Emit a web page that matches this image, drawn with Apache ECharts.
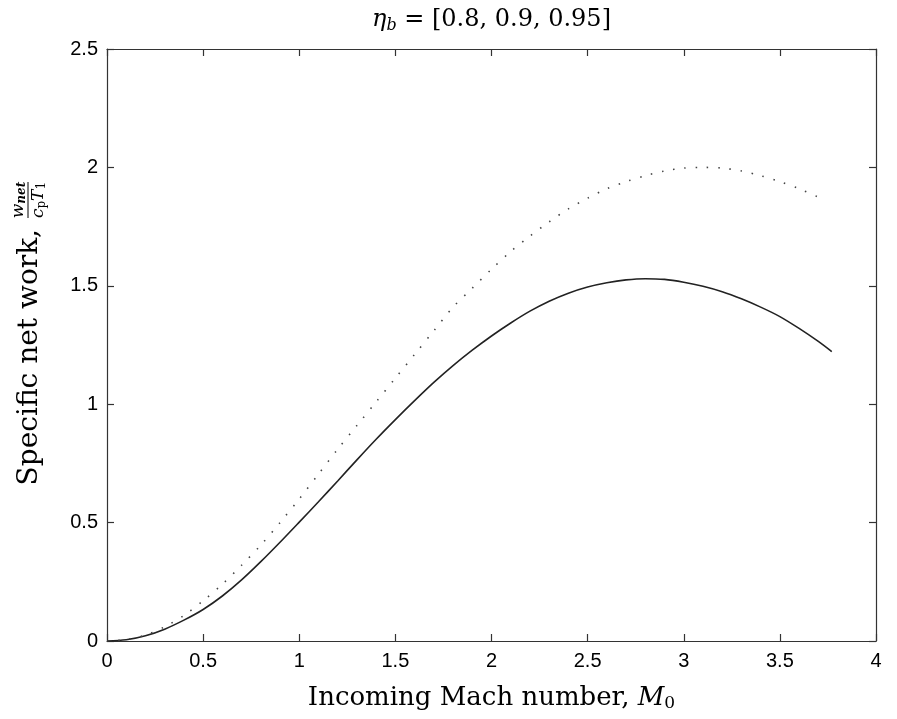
<!DOCTYPE html>
<html>
<head>
<meta charset="utf-8">
<script src="https://cdn.jsdelivr.net/npm/echarts@6/dist/echarts.min.js"></script>
<style>html,body{margin:0;padding:0;background:#fff}#c{width:897px;height:719px}</style>
</head>
<body>
<div id="c"></div>
<script>
// Incoming Mach number M0 and specific net work w_net/(c_p T1)
const machSolid = [0,0.1,0.2,0.3,0.4,0.5,0.6,0.7,0.8,0.9,1.0,1.1,1.2,1.3,1.4,1.5,1.6,1.7,1.8,1.9,2.0,2.1,2.2,2.3,2.4,2.5,2.6,2.7,2.8,2.9,3.0,3.1,3.2,3.3,3.4,3.5,3.6,3.7,3.77];
const workSolid = [0,0.005,0.022,0.05,0.088,0.133,0.19,0.258,0.335,0.417,0.502,0.588,0.676,0.765,0.852,0.935,1.015,1.092,1.163,1.228,1.288,1.343,1.393,1.435,1.469,1.495,1.513,1.525,1.53,1.527,1.515,1.498,1.475,1.445,1.41,1.37,1.32,1.265,1.222];
const machDotted = [0,0.1,0.2,0.3,0.4,0.5,0.6,0.7,0.8,0.9,1.0,1.1,1.2,1.3,1.4,1.5,1.6,1.7,1.8,1.9,2.0,2.1,2.2,2.3,2.4,2.5,2.6,2.7,2.8,2.9,3.0,3.1,3.2,3.3,3.4,3.5,3.6,3.7,3.74];
const workDotted = [0,0.006,0.025,0.06,0.108,0.17,0.24,0.32,0.405,0.5,0.6,0.705,0.81,0.91,1.01,1.11,1.21,1.31,1.41,1.49,1.57,1.645,1.71,1.77,1.825,1.87,1.91,1.94,1.965,1.985,1.997,2.0,1.997,1.985,1.965,1.94,1.91,1.875,1.865];
const titleText = '= [0.8, 0.9, 0.95]';
const xName = 'Incoming Mach number, ';
const yName = 'Specific net work,';

const pairs = (xs, ys) => xs.map((x, i) => [x, ys[i]]);
const chart = echarts.init(document.getElementById('c'), null, {renderer: 'canvas'});
const serif = 'DejaVu Serif';
const sans = 'Liberation Sans';
const axisLineStyle = {color: '#333', width: 1.2};
const grid = {left: 107, right: 21, top: 49, bottom: 78};
const plotCx = grid.left + (897 - grid.left - grid.right) / 2;
const plotCy = grid.top + (719 - grid.top - grid.bottom) / 2;

chart.setOption({
  animation: false,
  backgroundColor: '#fff',
  grid: grid,
  xAxis: [{
    type: 'value', min: 0, max: 4, interval: 0.5, position: 'bottom',
    axisLine: {show: true, onZero: false, lineStyle: axisLineStyle},
    axisTick: {show: true, inside: true, length: 7, lineStyle: axisLineStyle},
    splitLine: {show: false},
    axisLabel: {color: '#000', fontFamily: sans, fontSize: 20, margin: 10},
    name: '{t|' + xName + '}{i|M}{s|0}',
    nameLocation: 'middle', nameGap: 43,
    nameTextStyle: {
      rich: {
        t: {fontFamily: serif, fontSize: 26, color: '#000'},
        i: {fontFamily: serif, fontStyle: 'italic', fontSize: 26, color: '#000'},
        s: {fontFamily: serif, fontSize: 17, color: '#000', verticalAlign: 'bottom', padding: [11, 0, 0, 0]}
      }
    }
  }, {
    type: 'value', min: 0, max: 4, interval: 0.5, position: 'top',
    axisLine: {show: true, onZero: false, lineStyle: axisLineStyle},
    axisTick: {show: true, inside: true, length: 7, lineStyle: axisLineStyle},
    splitLine: {show: false}, axisLabel: {show: false}
  }],
  yAxis: [{
    type: 'value', min: 0, max: 2.5, interval: 0.5, position: 'left',
    axisLine: {show: true, onZero: false, lineStyle: axisLineStyle},
    axisTick: {show: true, inside: true, length: 7, lineStyle: axisLineStyle},
    splitLine: {show: false},
    axisLabel: {color: '#000', fontFamily: sans, fontSize: 20, margin: 9}
  }, {
    type: 'value', min: 0, max: 2.5, interval: 0.5, position: 'right',
    axisLine: {show: true, onZero: false, lineStyle: axisLineStyle},
    axisTick: {show: true, inside: true, length: 7, lineStyle: axisLineStyle},
    splitLine: {show: false}, axisLabel: {show: false}
  }],
  series: [{
    type: 'line', xAxisIndex: 0, yAxisIndex: 0, showSymbol: false, symbol: 'none', smooth: 0.3,
    data: pairs(machSolid, workSolid),
    lineStyle: {color: '#222', width: 1.6, type: 'solid'}
  }, {
    type: 'line', xAxisIndex: 0, yAxisIndex: 0, showSymbol: false, symbol: 'none', smooth: 0.3,
    data: pairs(machDotted, workDotted),
    lineStyle: {color: '#444', width: 1.6, type: [1.5, 9.8]}
  }],
  graphic: [{
    type: 'text', x: plotCx, y: 20,
    style: {
      text: '{e|η}{s|b}{n| ' + titleText + '}',
      align: 'center', verticalAlign: 'middle',
      rich: {
        e: {fontFamily: serif, fontStyle: 'italic', fontSize: 24, fill: '#000'},
        s: {fontFamily: serif, fontStyle: 'italic', fontSize: 16, fill: '#000', padding: [11, 0, 0, 0]},
        n: {fontFamily: serif, fontSize: 24, fill: '#000'}
      }
    }
  }, {
    type: 'group', x: 30, y: plotCy - 4, rotation: Math.PI / 2,
    children: [{
      type: 'text', x: 112, y: 0,
      style: {text: yName, align: 'right', verticalAlign: 'middle', font: '28px "DejaVu Serif"', fill: '#000'}
    }, {
      type: 'text', x: 141, y: -11,
      style: {
        text: '{i|w}{s|net}', align: 'center', verticalAlign: 'middle',
        rich: {
          i: {fontFamily: serif, fontStyle: 'italic', fontSize: 17, fill: '#000'},
          s: {fontFamily: serif, fontStyle: 'italic', fontWeight: 'bold', fontSize: 12, fill: '#000', padding: [6, 0, 0, 0]}
        }
      }
    }, {
      type: 'line', shape: {x1: 123, y1: -2, x2: 159, y2: -2}, style: {stroke: '#000', lineWidth: 1}
    }, {
      type: 'text', x: 141, y: 9,
      style: {
        text: '{i|c}{s|p}{i|T}{s|1}', align: 'center', verticalAlign: 'middle',
        rich: {
          i: {fontFamily: serif, fontStyle: 'italic', fontSize: 17, fill: '#000'},
          s: {fontFamily: serif, fontSize: 12, fill: '#000', padding: [6, 0, 0, 0]}
        }
      }
    }]
  }]
});
</script>
</body>
</html>
